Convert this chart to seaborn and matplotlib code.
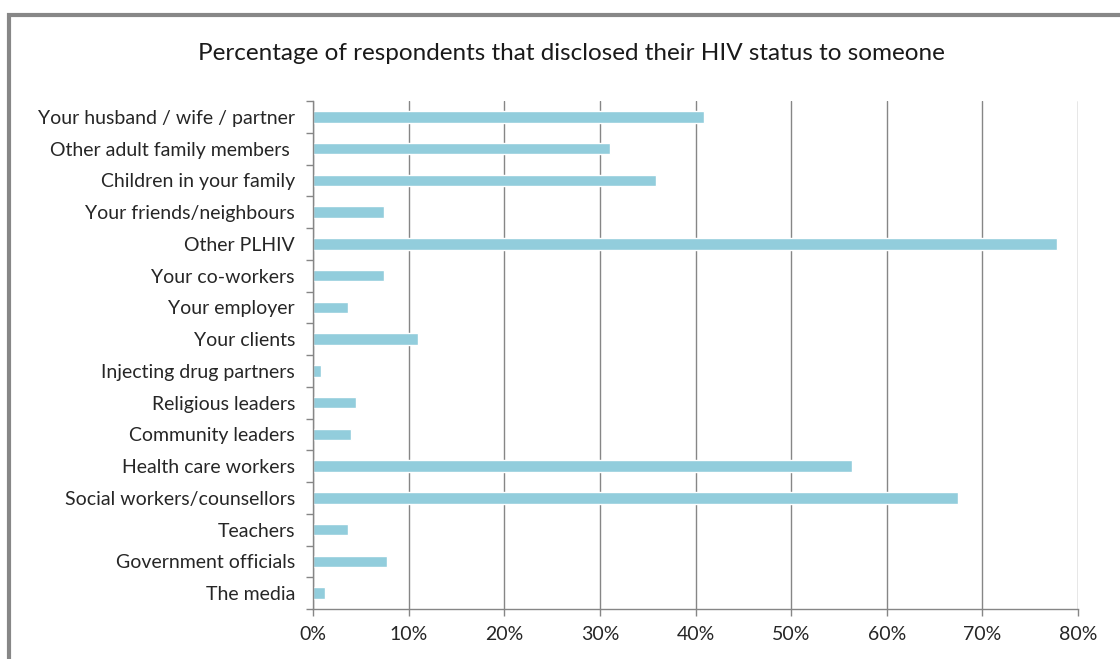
import matplotlib
matplotlib.use("Agg")
import matplotlib.pyplot as plt
import matplotlib.patches as mpatches
from matplotlib.ticker import FixedLocator, PercentFormatter
import seaborn as sns
import pandas as pd
import numpy as np

categories = [
    "Your husband / wife / partner",
    "Other adult family members ",
    "Children in your family",
    "Your friends/neighbours",
    "Other PLHIV",
    "Your co-workers",
    "Your employer",
    "Your clients",
    "Injecting drug partners",
    "Religious leaders",
    "Community leaders",
    "Health care workers",
    "Social workers/counsellors",
    "Teachers",
    "Government officials",
    "The media",
]
values = [40.9, 31.1, 35.9, 7.4, 77.8, 7.4, 3.7, 11.0, 0.8, 4.5, 4.0, 56.4, 67.5, 3.7, 7.7, 1.3]
xticks = [0, 10, 20, 30, 40, 50, 60, 70, 80]

sns.set_theme(style="white")
plt.rcParams["font.family"] = ["Lato", "DejaVu Sans"]

df = pd.DataFrame({"category": categories, "value": values})

fig = plt.figure(figsize=(11.2, 6.59), dpi=100)
ax = fig.add_axes([313 / 1120, 1 - 609 / 659, (1078 - 313) / 1120, (609 - 101) / 659])

sns.barplot(data=df, x="value", y="category", color="#92CDDC", saturation=1,
            width=0.37, orient="h", ax=ax)

ax.set_xlim(0, 80)
ax.set_ylim(len(categories) - 0.5, -0.5)
ax.xaxis.set_major_locator(FixedLocator(xticks))
ax.xaxis.set_major_formatter(PercentFormatter(decimals=0))
ax.set_xlabel("")
ax.set_ylabel("")

gray = "#868686"
ax.grid(axis="x", color=gray, linewidth=1)
ax.set_axisbelow(True)
for s in ["top", "right"]:
    ax.spines[s].set_visible(False)
for s in ["left", "bottom"]:
    ax.spines[s].set_color(gray)
    ax.spines[s].set_linewidth(1)

ax.yaxis.set_minor_locator(FixedLocator(np.arange(-0.5, len(categories), 1.0)))
ax.tick_params(axis="y", which="major", length=0, pad=13, labelsize=14, labelcolor="#262626")
ax.tick_params(axis="y", which="minor", left=True, length=5, width=1, color=gray)
ax.tick_params(axis="x", which="major", bottom=True, length=5, width=1, color=gray,
               pad=7, labelsize=14, labelcolor="#262626")

fig.text(0.5 * (193 + 950) / 1120, 1 - 53 / 659,
         "Percentage of respondents that disclosed their HIV status to someone",
         ha="center", va="center", fontsize=17.5, color="#1a1a1a")

frame = mpatches.Rectangle((9 / 1120, -0.1), 1.2, 1 - 15 / 659 + 0.1,
                           transform=fig.transFigure, fill=False,
                           edgecolor="#878787", linewidth=3, clip_on=False)
fig.patches.append(frame)

fig.savefig("out.png", dpi=100)
